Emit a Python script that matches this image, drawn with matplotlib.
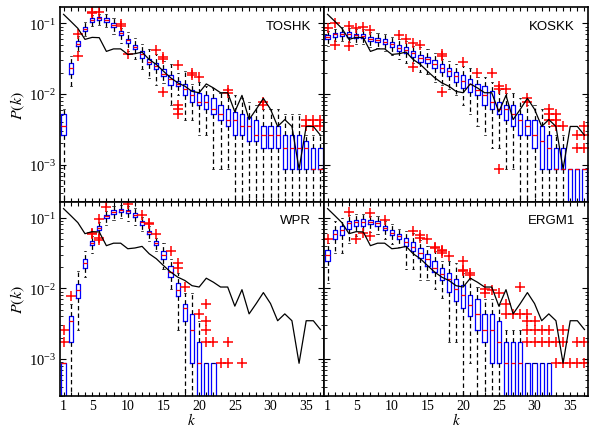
import numpy as np
import matplotlib.pyplot as plt

plt.rcParams['font.family'] = 'serif'
plt.rcParams['font.serif'] = ['Liberation Serif', 'DejaVu Serif']
plt.rcParams['mathtext.fontset'] = 'stix'

k = np.arange(1, 38)

# degree distribution of the observed network (black line)
observed = [0.134, 0.107, 0.085, 0.0593, 0.0633, 0.0627, 0.0401, 0.0435, 0.0435, 0.0363,
            0.0372, 0.0392, 0.0308, 0.0262, 0.0210, 0.0170, 0.0144, 0.0129, 0.0109, 0.01043,
            0.0139, 0.0122, 0.01043, 0.01043, 0.0056, 0.00957, 0.00435, 0.00609, 0.0087, 0.00609,
            0.00348, 0.00435, 0.00348, 0.00087, 0.00348, 0.00348, 0.00261]

# ---- TOSHK ----
toshk_med = [0.00348, 0.0230, 0.0515, 0.083, 0.111, 0.119, 0.113, 0.0946, 0.0721, 0.0574,
             0.0461, 0.0363, 0.0286, 0.0248, 0.0195, 0.0161, 0.0140, 0.0116, 0.00957, 0.00783,
             0.00783, 0.00609, 0.00522, 0.00435, 0.00435, 0.00348, 0.00348, 0.00261, 0.00261, 0.00261,
             0.00261, 0.00174, 0.00174, 0.00174, 0.00174, 0.00087, 0.00087]
toshk_q1 = [0.00261, 0.0195, 0.0477, 0.0778, 0.106, 0.113, 0.106, 0.0887, 0.0676, 0.052,
            0.0428, 0.0326, 0.0262, 0.0223, 0.0179, 0.0136, 0.0129, 0.0098, 0.00783, 0.00696,
            0.00609, 0.00522, 0.00435, 0.00348, 0.00261, 0.00261, 0.00217, 0.00217, 0.00174, 0.00174,
            0.00174, 0.00087, 0.00087, 0.00087, 0.00087, 0.00087, 0.00087]
toshk_q3 = [0.00522, 0.0277, 0.0561, 0.0887, 0.118, 0.1245, 0.1205, 0.102, 0.0778, 0.0607,
            0.0488, 0.0405, 0.0316, 0.0277, 0.0223, 0.0185, 0.0155, 0.0140, 0.0113, 0.01043,
            0.00957, 0.0087, 0.00696, 0.00609, 0.00565, 0.00522, 0.00478, 0.00435, 0.00348, 0.00348,
            0.00348, 0.00261, 0.00261, 0.00261, 0.00217, 0.00174, 0.00174]
toshk_lo = [0, 0.0132, 0.0405, 0.066, 0.0916, 0.0946, 0.0887, 0.0714, 0.0532, 0.0405,
            0.0308, 0.0223, 0.0171, 0.0136, 0.0144, 0.0071, 0.0098, 0.00435, 0.00435, 0.00261,
            0.00261, 0.00087, 0.00087, 0.00087, 0, 0, 0, 0, 0, 0,
            0, 0, 0, 0, 0, 0, 0]
toshk_hi = [0.00609, 0.034, 0.0655, 0.103, 0.132, 0.137, 0.134, 0.1205, 0.0869, 0.0745,
            0.0627, 0.0504, 0.0428, 0.0363, 0.0290, 0.0262, 0.0200, 0.0209, 0.0139, 0.0148,
            0.013, 0.0122, 0.01043, 0.00957, 0.00957, 0.0087, 0.00783, 0.00696, 0.00609, 0.00609,
            0.00609, 0.00522, 0.00522, 0.00522, 0.00261, 0.00261, 0.00261]
toshk_out = {3: [0.0699, 0.0343], 5: [0.147, 0.140], 6: [0.146], 9: [0.0968, 0.0916],
             10: [0.0372], 14: [0.0414], 15: [0.033, 0.031, 0.0106],
             17: [0.0257, 0.00696, 0.00609, 0.00522], 19: [0.0200, 0.0183], 20: [0.0174],
             24: [0.0113, 0.01043], 29: [0.00783, 0.00696], 35: [0.00435, 0.00348],
             36: [0.00435, 0.00348], 37: [0.00435, 0.00348]}

# ---- KOSKK ----
koskk_med = [0.0640, 0.0698, 0.0714, 0.0698, 0.0676, 0.0660, 0.0607, 0.0574, 0.0543, 0.0504,
             0.0442, 0.0414, 0.0375, 0.0326, 0.0308, 0.0262, 0.0236, 0.0210, 0.0179, 0.0152,
             0.0139, 0.0113, 0.00957, 0.00783, 0.00609, 0.00609, 0.00522, 0.00435, 0.00348, 0.00261,
             0.00217, 0.00174, 0.00087, 0.00087, 0.00087, 0.00087, 0.00087]
koskk_q1 = [0.0593, 0.0648, 0.0661, 0.0648, 0.0627, 0.0627, 0.0561, 0.0543, 0.0504, 0.0461,
            0.0405, 0.0375, 0.0337, 0.0286, 0.0277, 0.0230, 0.0204, 0.0179, 0.0148, 0.0122,
            0.0107, 0.00957, 0.00696, 0.00609, 0.00522, 0.00435, 0.00348, 0.00261, 0.00261, 0.00174,
            0.00087, 0.00087, 0.00087, 0.00087, 0, 0, 0]
koskk_q3 = [0.0683, 0.0738, 0.0762, 0.0753, 0.0714, 0.0714, 0.0648, 0.0612, 0.0593, 0.0543,
            0.0492, 0.0461, 0.0405, 0.0352, 0.0337, 0.0299, 0.0262, 0.0230, 0.0206, 0.0183,
            0.0165, 0.0139, 0.0130, 0.0109, 0.00783, 0.00696, 0.00696, 0.00522, 0.00435, 0.00435,
            0.00348, 0.00261, 0.00174, 0.00174, 0.00087, 0.00087, 0.00087]
koskk_lo = [0.0477, 0.0561, 0.0556, 0.0537, 0.0504, 0.0504, 0.0457, 0.0452, 0.0401, 0.0352,
            0.0308, 0.0271, 0.0271, 0.0208, 0.0189, 0.0150, 0.0136, 0.0116, 0.0098, 0.00696,
            0.00522, 0.00348, 0.00261, 0.00174, 0.00174, 0.00087, 0.00087, 0, 0, 0,
            0, 0, 0, 0, 0, 0, 0]
koskk_hi = [0.0778, 0.0822, 0.0877, 0.085, 0.0822, 0.0822, 0.0745, 0.0738, 0.0700, 0.0650,
            0.0600, 0.0560, 0.0480, 0.0457, 0.0430, 0.0380, 0.0308, 0.0290, 0.0270, 0.0250,
            0.0235, 0.0174, 0.0174, 0.0148, 0.0113, 0.0104, 0.0104, 0.0087, 0.00696, 0.00696,
            0.00609, 0.00348, 0.00261, 0.00261, 0.00087, 0.00087, 0.00087]
koskk_out = {1: [0.085], 2: [0.100, 0.0492], 4: [0.0916, 0.0477], 5: [0.0865], 6: [0.0887],
             7: [0.0796], 11: [0.0676], 12: [0.0607], 13: [0.0530, 0.0243], 14: [0.0492],
             17: [0.0363, 0.0343, 0.0107], 20: [0.0286], 22: [0.0200], 24: [0.0196],
             25: [0.0128, 0.0116, 0.00087], 26: [0.0116], 29: [0.0087, 0.00783],
             32: [0.00609, 0.00522, 0.00435], 33: [0.00522, 0.00435, 0.00348], 34: [0.00348],
             36: [0.00261, 0.00174], 37: [0.00348, 0.00261, 0.00174]}

# ---- WPR ----
wpr_med = [0.00087, 0.00348, 0.00957, 0.0230, 0.0435, 0.0722, 0.1045, 0.120, 0.130, 0.124,
           0.110, 0.0859, 0.0622, 0.044, 0.0292, 0.0172, 0.00957, 0.0053, 0.00261, 0.00087,
           0, 0, 0, 0, 0, 0, 0, 0, 0, 0,
           0, 0, 0, 0, 0, 0, 0]
wpr_q1 = [0, 0.00174, 0.0074, 0.0191, 0.0404, 0.0662, 0.099, 0.1137, 0.120, 0.116,
          0.102, 0.0796, 0.0589, 0.0404, 0.0256, 0.0143, 0.00783, 0.00348, 0.00087, 0,
          0, 0, 0, 0, 0, 0, 0, 0, 0, 0,
          0, 0, 0, 0, 0, 0, 0]
wpr_q3 = [0.00087, 0.0040, 0.0116, 0.0262, 0.0474, 0.0771, 0.110, 0.1268, 0.134, 0.130,
          0.116, 0.0908, 0.0656, 0.0464, 0.0334, 0.0206, 0.0120, 0.00609, 0.00435, 0.00174,
          0.00087, 0.00087, 0, 0, 0, 0, 0, 0, 0, 0,
          0, 0, 0, 0, 0, 0, 0]
wpr_lo = [0, 0, 0.00261, 0.0143, 0.0311, 0.058, 0.0796, 0.0937, 0.100, 0.0898,
          0.0796, 0.0643, 0.0464, 0.0334, 0.0185, 0.0097, 0.00261, 0, 0, 0,
          0, 0, 0, 0, 0, 0, 0, 0, 0, 0,
          0, 0, 0, 0, 0, 0, 0]
wpr_hi = [0.00087, 0.00609, 0.0174, 0.0334, 0.055, 0.088, 0.125, 0.145, 0.150, 0.148,
          0.135, 0.102, 0.075, 0.052, 0.0435, 0.0256, 0.0165, 0.0087, 0.0087, 0.00348,
          0.00087, 0.00087, 0, 0, 0, 0, 0, 0, 0, 0,
          0, 0, 0, 0, 0, 0, 0]
wpr_out = {1: [0.00261, 0.00174], 2: [0.00783], 5: [0.061, 0.059], 6: [0.096, 0.052, 0.049],
           7: [0.1415], 10: [0.158], 12: [0.108], 13: [0.0848, 0.0807], 14: [0.0594],
           16: [0.0334], 17: [0.0230, 0.0196], 18: [0.0106], 20: [0.00435],
           21: [0.00609, 0.00348, 0.00261, 0.00174], 22: [0.00174], 23: [0.00087],
           24: [0.00174, 0.00087], 26: [0.00087]}

# ---- ERGM1 ----
ergm_med = [0.0292, 0.0596, 0.0678, 0.0832, 0.0859, 0.0870, 0.0867, 0.0832, 0.0714, 0.0608,
            0.0546, 0.0454, 0.0387, 0.0321, 0.0263, 0.0196, 0.0157, 0.0134, 0.00966, 0.0080,
            0.00574, 0.00435, 0.00261, 0.00261, 0.00174, 0.00087, 0.00087, 0.00087, 0, 0,
            0, 0, 0, 0, 0, 0, 0]
ergm_q1 = [0.0242, 0.0501, 0.0577, 0.070, 0.0771, 0.0771, 0.0805, 0.0756, 0.0662, 0.0563,
           0.0501, 0.0394, 0.0339, 0.027, 0.0206, 0.017, 0.013, 0.0089, 0.0066, 0.00522,
           0.0040, 0.00261, 0.00174, 0.00087, 0.00087, 0, 0, 0, 0, 0,
           0, 0, 0, 0, 0, 0, 0]
ergm_q3 = [0.0346, 0.0678, 0.0756, 0.0898, 0.0937, 0.0960, 0.0927, 0.0898, 0.0771, 0.0662,
           0.0589, 0.0518, 0.0454, 0.0366, 0.0309, 0.0243, 0.0196, 0.0163, 0.0134, 0.011,
           0.0080, 0.00705, 0.00435, 0.00435, 0.00348, 0.00174, 0.00174, 0.00174, 0.00087, 0.00087,
           0.00087, 0.00087, 0, 0, 0, 0, 0]
ergm_lo = [0.0120, 0.0313, 0.0313, 0.0435, 0.055, 0.060, 0.062, 0.058, 0.050, 0.042,
           0.038, 0.0185, 0.0185, 0.0133, 0.0133, 0.0097, 0.0074, 0.00174, 0.00174, 0,
           0.00087, 0, 0, 0, 0, 0, 0, 0, 0, 0,
           0, 0, 0, 0, 0, 0, 0]
ergm_hi = [0.0435, 0.0898, 0.100, 0.110, 0.113, 0.113, 0.105, 0.105, 0.090, 0.080,
           0.070, 0.065, 0.060, 0.048, 0.040, 0.034, 0.0243, 0.0243, 0.0226, 0.0165,
           0.0139, 0.0104, 0.00696, 0.00696, 0.00609, 0.00261, 0.00261, 0.00261, 0.00087, 0.00087,
           0.00087, 0.00087, 0, 0, 0, 0, 0]
ergm_out = {1: [0.0506], 4: [0.120], 5: [0.0496], 6: [0.0608], 7: [0.118, 0.055],
            9: [0.0937], 13: [0.0643], 14: [0.0565, 0.0516], 15: [0.0506],
            16: [0.0387, 0.0373], 17: [0.0354, 0.0336, 0.0318], 18: [0.0283],
            20: [0.0243, 0.0182, 0.0175], 21: [0.0163, 0.0152], 23: [0.00966, 0.0087],
            24: [0.00957], 25: [0.0087], 26: [0.00609, 0.00435], 27: [0.00435],
            28: [0.0104, 0.00435], 29: [0.00435, 0.00348, 0.00261, 0.00174],
            30: [0.00348, 0.00261, 0.00174], 31: [0.00261, 0.00174], 32: [0.00261, 0.00174],
            33: [0.00174, 0.00087], 34: [0.00261, 0.00174, 0.00087], 35: [0.00087],
            36: [0.00174, 0.00087], 37: [0.00174, 0.00087]}

panels = [
    ('TOSHK', toshk_med, toshk_q1, toshk_q3, toshk_lo, toshk_hi, toshk_out),
    ('KOSKK', koskk_med, koskk_q1, koskk_q3, koskk_lo, koskk_hi, koskk_out),
    ('WPR', wpr_med, wpr_q1, wpr_q3, wpr_lo, wpr_hi, wpr_out),
    ('ERGM1', ergm_med, ergm_q1, ergm_q3, ergm_lo, ergm_hi, ergm_out),
]

FLOOR = 1e-6  # zero probabilities sit below the log axis

def box_stats(med, q1, q3, lo, hi, out):
    stats = []
    for i in range(len(med)):
        stats.append(dict(med=max(med[i], FLOOR), q1=max(q1[i], FLOOR),
                          q3=max(q3[i], FLOOR), whislo=max(lo[i], FLOOR),
                          whishi=max(hi[i], FLOOR), fliers=out.get(i + 1, [])))
    return stats

fig = plt.figure(figsize=(5.9, 4.27), dpi=100)
x0, w = 0.1017, 0.4475
y0, h = 0.0703, 0.455
rects = [[x0, y0 + h, w, h], [x0 + w, y0 + h, w, h],
         [x0, y0, w, h], [x0 + w, y0, w, h]]

xlabels = ['1' if i == 1 else (str(i) if i % 5 == 0 else '') for i in k]

for n, (name, med, q1, q3, lo, hi, out) in enumerate(panels):
    ax = fig.add_axes(rects[n])
    ax.set_yscale('log')
    ax.bxp(box_stats(med, q1, q3, lo, hi, out), positions=k, widths=0.6,
           manage_ticks=False,
           boxprops=dict(color='#0000ff', lw=0.9),
           medianprops=dict(color='#ff0000', lw=0.9),
           whiskerprops=dict(color='k', ls=(0, (3.5, 2.5)), lw=0.9),
           capprops=dict(color='k', lw=0.5),
           flierprops=dict(marker='+', markeredgecolor='#ff0000', markersize=6.5, mew=1.1))
    ax.plot(k, observed, color='k', lw=0.9, zorder=5)

    ax.set_xlim(0.5, 37.5)
    ax.set_ylim(3.0e-4, 0.168)
    ax.set_xticks(k)
    ax.tick_params(which='both', direction='in', top=True, right=True, labelsize=10.5)
    ax.tick_params(axis='x', length=3, pad=2, labelsize=10)
    ax.tick_params(axis='y', which='major', length=4.5, pad=3)
    ax.tick_params(axis='y', which='minor', length=2.5)
    for s in ax.spines.values():
        s.set_linewidth(1.2)

    if n % 2 == 0:
        ax.set_ylabel('$P(k)$', fontsize=11.5, labelpad=1)
    else:
        ax.set_yticklabels([], minor=False)
        ax.set_yticklabels([], minor=True)
    if n >= 2:
        ax.set_xticklabels(xlabels)
        ax.set_xlabel('$k$', fontsize=11)
        ax.xaxis.label.set_va('center')
        ax.xaxis.set_label_coords(0.5, -0.12)
    else:
        ax.set_xticklabels([])

    ax.text(0.95, 0.905, name, transform=ax.transAxes, ha='right', va='center',
            fontsize=9.5, family='Liberation Sans')

fig.savefig('out.png', dpi=100)
